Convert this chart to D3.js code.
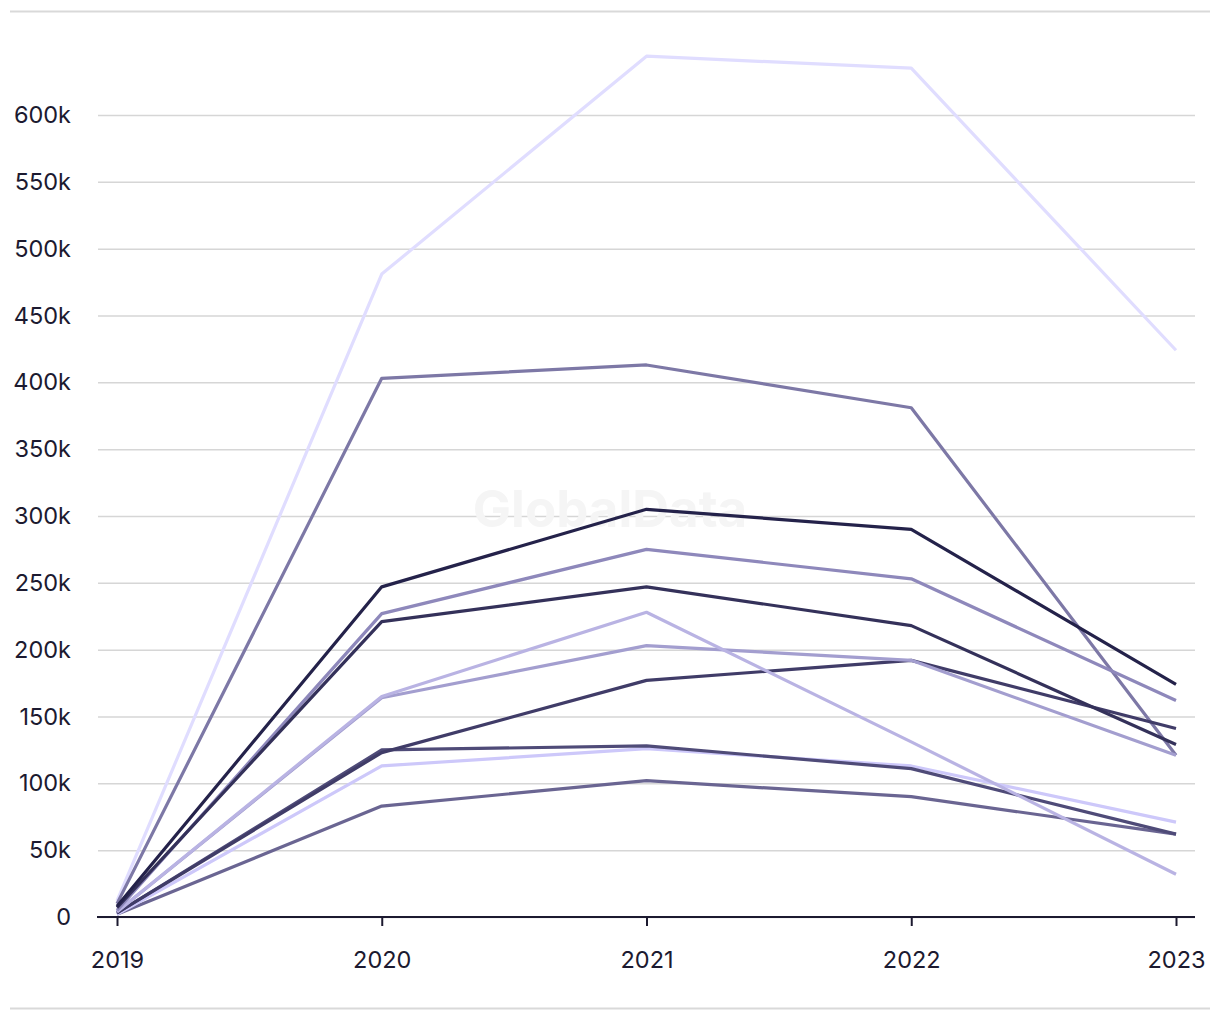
<!DOCTYPE html>
<html>
<head>
<meta charset="utf-8">
<script src="https://cdn.jsdelivr.net/npm/d3@7"></script>
<style>
  body { margin: 0; background: #fff; }
  svg text { font-family: Inter, "Noto Sans", sans-serif; }
</style>
</head>
<body>
<script>
// chart values
var years = [2019, 2020, 2021, 2022, 2023];
var yTicks = [0, 50000, 100000, 150000, 200000, 250000, 300000, 350000, 400000, 450000, 500000, 550000, 600000];

var s1 = [12000, 481000, 644000, 635000, 424000];
var s2 = [10000, 403000, 413000, 381000, 121000];
var s3 = [8000, 247000, 305000, 290000, 174000];
var s4 = [5000, 227000, 275000, 253000, 162000];
var s5 = [7000, 221000, 247000, 218000, 129000];
var s6 = [4000, 165000, 228000, 131000, 32000];
var s7 = [4000, 164000, 203000, 192000, 121000];
var s8 = [3000, 123000, 177000, 192000, 141000];
var s9 = [3000, 125000, 128000, 111000, 62000];
var s10 = [2000, 113000, 126000, 113000, 71000];
var s11 = [2000, 83000, 102000, 90000, 62000];

var seriesList = [s1, s2, s11, s10, s9, s8, s7, s6, s4, s5, s3];
var colorList = ["#e0ddff", "#7d78a6", "#6a6592", "#cdc8fa", "#4f4b78", "#403c68",
                 "#a39ecf", "#b9b3e3", "#8e88bb", "#34315a", "#24224a"];

window.onload = function() {

  var width = 1220, height = 1020;
  var margin = { top: 115, right: 44, bottom: 103, left: 117 };

  var svg = d3.select("body")
              .append("svg")
              .attr("width", width)
              .attr("height", height);

  var xScale = d3.scalePoint()
                 .domain(years)
                 .range([margin.left, width - margin.right]);

  var yScale = d3.scaleLinear()
                 .domain([0, 600000])
                 .range([height - margin.bottom, margin.top]);

  // top and bottom rules
  svg.append("line")
     .attr("x1", 10).attr("x2", 1210)
     .attr("y1", 11.5).attr("y2", 11.5)
     .attr("stroke", "#d9d9d9").attr("stroke-width", 2);
  svg.append("line")
     .attr("x1", 10).attr("x2", 1210)
     .attr("y1", 1008.5).attr("y2", 1008.5)
     .attr("stroke", "#d9d9d9").attr("stroke-width", 2);

  // gridlines + y labels
  var yAxis = d3.axisLeft(yScale)
                .tickValues(yTicks)
                .tickSize(-(1195 - 98))
                .tickPadding(27)
                .tickFormat(function(d) { return d === 0 ? "0" : (d / 1000) + "k"; });

  var yGuide = svg.append("g")
                  .attr("transform", "translate(98,0)")
                  .call(yAxis);
  yGuide.select(".domain").remove();
  yGuide.selectAll("line")
        .attr("stroke", "#d6d6d6")
        .attr("stroke-width", 1.5);
  yGuide.selectAll("text")
        .attr("font-size", "23.5px")
        .attr("fill", "#1c1a30");

  // watermark
  svg.append("text")
     .attr("x", 610)
     .attr("y", 527)
     .attr("text-anchor", "middle")
     .attr("font-size", "51px")
     .attr("font-weight", "bold")
     .attr("fill", "#f5f5f5")
     .text("GlobalData");

  // lines
  var line = d3.line()
               .x(function(d, i) { return xScale(years[i]); })
               .y(function(d) { return yScale(d); });

  svg.selectAll(".series")
     .data(seriesList)
     .enter()
     .append("path")
     .attr("class", "series")
     .attr("d", line)
     .attr("fill", "none")
     .attr("stroke", function(d, i) { return colorList[i]; })
     .attr("stroke-width", 3.2)
     .attr("stroke-linejoin", "round");

  // x axis
  var xAxis = d3.axisBottom(xScale)
                .tickSizeOuter(0)
                .tickSize(9)
                .tickPadding(25);

  var xGuide = svg.append("g")
                  .attr("transform", "translate(0," + (height - margin.bottom) + ")")
                  .call(xAxis);
  xGuide.select(".domain")
        .attr("d", "M97,0H1195")
        .attr("stroke", "#1c1a30")
        .attr("stroke-width", 2);
  xGuide.selectAll("line")
        .attr("stroke", "#1c1a30")
        .attr("stroke-width", 2);
  xGuide.selectAll("text")
        .attr("font-size", "23.5px")
        .attr("fill", "#1c1a30");
};
</script>
</body>
</html>
